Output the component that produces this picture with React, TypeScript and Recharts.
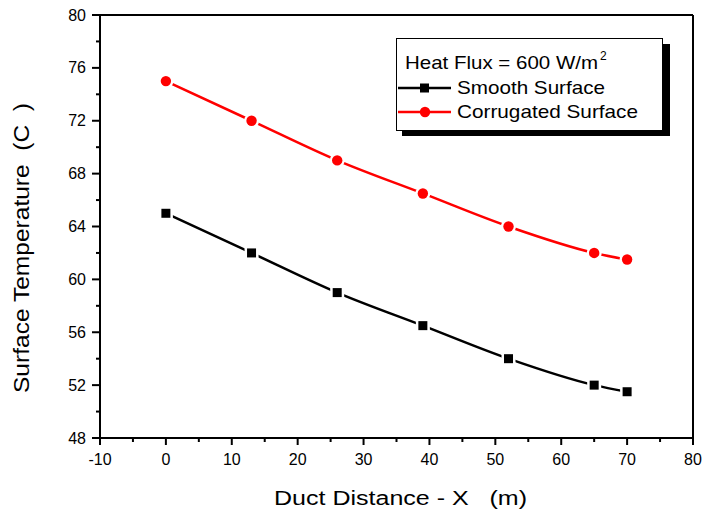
import { LineChart, Line, XAxis, YAxis, ReferenceLine, Label } from 'recharts'

const distances = [0, 13, 26, 39, 52, 65, 70]
const smoothTemps = [65, 62, 59, 56.5, 54, 52, 51.5]
const corrugatedTemps = [75, 72, 69, 66.5, 64, 62, 61.5]

const xTicks = [-10, -5, 0, 5, 10, 15, 20, 25, 30, 35, 40, 45, 50, 55, 60, 65, 70, 75, 80]
const yTicks = [48, 50, 52, 54, 56, 58, 60, 62, 64, 66, 68, 70, 72, 74, 76, 78, 80]

const data = distances.map((x, i) => ({ x, smooth: smoothTemps[i], corrugated: corrugatedTemps[i] }))

const FONT = '"Liberation Sans", Arial, sans-serif'
const NB = '\u00a0'

const XTick = (props: any) => {
  const { x, y, payload } = props
  const major = payload.value % 10 === 0
  return (
    <g>
      <line x1={x} x2={x} y1={y} y2={y + (major ? 7 : 4)} stroke="#000" strokeWidth={2} />
      {major && (
        <text x={x} y={y + 27} textAnchor="middle" fontSize={16} fontFamily={FONT} fill="#000">
          {payload.value}
        </text>
      )}
    </g>
  )
}

const YTick = (props: any) => {
  const { x, y, payload } = props
  const major = payload.value % 4 === 0
  return (
    <g>
      <line x1={x} x2={x - (major ? 8 : 4)} y1={y} y2={y} stroke="#000" strokeWidth={2} />
      {major && (
        <text x={x - 14} y={y + 5.5} textAnchor="end" fontSize={16} fontFamily={FONT} fill="#000">
          {payload.value}
        </text>
      )}
    </g>
  )
}

const RightTick = (props: any) => {
  const { x, y, payload } = props
  const major = payload.value % 4 === 0
  return <line x1={x} x2={x - (major ? 5 : 3)} y1={y} y2={y} stroke="#000" strokeWidth={1.5} />
}

const SquareDot = (props: any) => {
  const { cx, cy } = props
  return (
    <g>
      <rect x={cx - 7} y={cy - 7} width={14} height={14} fill="#fff" />
      <rect x={cx - 4.5} y={cy - 4.5} width={9} height={9} fill="#000" />
    </g>
  )
}

const CircleDot = (props: any) => {
  const { cx, cy } = props
  return (
    <g>
      <circle cx={cx} cy={cy} r={7.5} fill="#fff" />
      <circle cx={cx} cy={cy} r={5.2} fill="#ff0000" />
    </g>
  )
}

const LegendBox = () => (
  <svg width={704} height={513} style={{ position: 'absolute', left: 0, top: 0, pointerEvents: 'none' }}>
    <rect x={402} y={44} width={268} height={92} fill="#000" />
    <rect x={396.5} y={38.5} width={266} height={92} fill="#fff" stroke="#000" strokeWidth={1} />
    <text x={405} y={69} fontSize={19} fontFamily={FONT} fill="#000" textLength={193} lengthAdjust="spacingAndGlyphs">
      Heat Flux = 600 W/m
    </text>
    <text x={600} y={60} fontSize={12} fontFamily={FONT} fill="#000">2</text>
    <line x1={398} x2={451} y1={88} y2={88} stroke="#000" strokeWidth={2.5} />
    <rect x={420} y={83.5} width={9} height={9} fill="#000" />
    <text x={457} y={94} fontSize={19} fontFamily={FONT} fill="#000" textLength={148} lengthAdjust="spacingAndGlyphs">
      Smooth Surface
    </text>
    <line x1={398} x2={451} y1={112} y2={112} stroke="#ff0000" strokeWidth={2.5} />
    <circle cx={425} cy={112} r={5.2} fill="#ff0000" />
    <text x={457} y={118} fontSize={19} fontFamily={FONT} fill="#000" textLength={181} lengthAdjust="spacingAndGlyphs">
      Corrugated Surface
    </text>
  </svg>
)

const XTitle = () => (
  <text x={274} y={505} fontSize={20} fontFamily={FONT} fill="#000" textLength={253} lengthAdjust="spacingAndGlyphs">
    {`Duct Distance - X${NB}${NB}${NB}(m)`}
  </text>
)

const YTitle = () => (
  <text
    x={0}
    y={0}
    transform="translate(29, 393) rotate(-90)"
    fontSize={22}
    fontFamily={FONT}
    fill="#000"
    textLength={290}
    lengthAdjust="spacingAndGlyphs"
  >
    {`Surface Temperature${NB}${NB}(C${NB}${NB})`}
  </text>
)

export default function App() {
  return (
    <div style={{ position: 'absolute', left: 0, top: 0, width: 704, height: 513, background: '#fff' }}>
      <LineChart width={704} height={513} data={data} margin={{ top: 15, right: 0, left: 0, bottom: 0 }}>
        <XAxis
          dataKey="x"
          type="number"
          domain={[-10, 80]}
          ticks={xTicks}
          interval={0}
          height={75}
          tickSize={0}
          tickMargin={0}
          tick={<XTick />}
          axisLine={{ stroke: '#000', strokeWidth: 2 }}
        >
          <Label content={<XTitle />} />
        </XAxis>
        <YAxis
          type="number"
          domain={[48, 80]}
          ticks={yTicks}
          interval={0}
          width={100}
          tickSize={0}
          tickMargin={0}
          tick={<YTick />}
          axisLine={{ stroke: '#000', strokeWidth: 2 }}
        >
          <Label content={<YTitle />} />
        </YAxis>
        <YAxis
          yAxisId="right"
          orientation="right"
          type="number"
          domain={[48, 80]}
          ticks={yTicks}
          interval={0}
          width={11}
          tickSize={0}
          tickMargin={0}
          tick={<RightTick />}
          axisLine={{ stroke: '#000', strokeWidth: 2 }}
        />
        <ReferenceLine y={80} stroke="#000" strokeWidth={2} />
        <Line
          type="monotone"
          dataKey="smooth"
          name="Smooth Surface"
          stroke="#000"
          strokeWidth={2.5}
          dot={<SquareDot />}
          activeDot={false}
          isAnimationActive={false}
        />
        <Line
          type="monotone"
          dataKey="corrugated"
          name="Corrugated Surface"
          stroke="#ff0000"
          strokeWidth={2.5}
          dot={<CircleDot />}
          activeDot={false}
          isAnimationActive={false}
        />
      </LineChart>
      <LegendBox />
    </div>
  )
}
